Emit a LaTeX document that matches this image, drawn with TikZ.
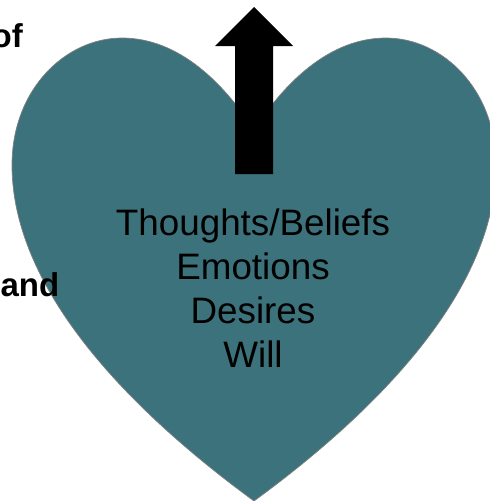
\documentclass[tikz,border=0pt]{standalone}
\usepackage{fontspec}
\setmainfont{Liberation Sans}
\definecolor{heartTeal}{HTML}{3C727B}
\tikzset{
    sideLabel/.style={font=\bfseries\fontsize{33}{38}\selectfont, anchor=base east, inner sep=0pt},
    heartLabel/.style={font=\fontsize{36.8}{44}\selectfont, align=center, inner sep=0pt},
}

\begin{document}
\begin{tikzpicture}[x=1pt, y=-1pt]
        \useasboundingbox (0, 0) rectangle (490, 501);
        \clip (0, 0) rectangle (490, 501);

        % heart
        \filldraw[fill=heartTeal, draw=gray, line width=0.7pt] (254, 501)
            .. controls (150, 425) and (12, 300) .. (12, 165)
            .. controls (12, 90) and (65, 38) .. (122, 38)
            .. controls (180, 38) and (225, 85) .. (254, 130)
            .. controls (283, 85) and (328, 38) .. (386, 38)
            .. controls (443, 38) and (496, 90) .. (496, 165)
            .. controls (496, 300) and (358, 425) .. (254, 501) -- cycle;

        % arrow
        \fill[black] (235, 174) -- (235, 46) -- (215, 46) -- (254, 7) -- (293, 46) -- (273, 46) -- (273, 174) -- cycle;

        \node[heartLabel] (heartText) at (253, 288) {Thoughts/Beliefs\\Emotions\\Desires\\Will};

        \node[sideLabel] (ofLabel) at (23, 47) {of};
        \node[sideLabel] (andLabel) at (59.5, 296.5) {and};
\end{tikzpicture}
\end{document}
